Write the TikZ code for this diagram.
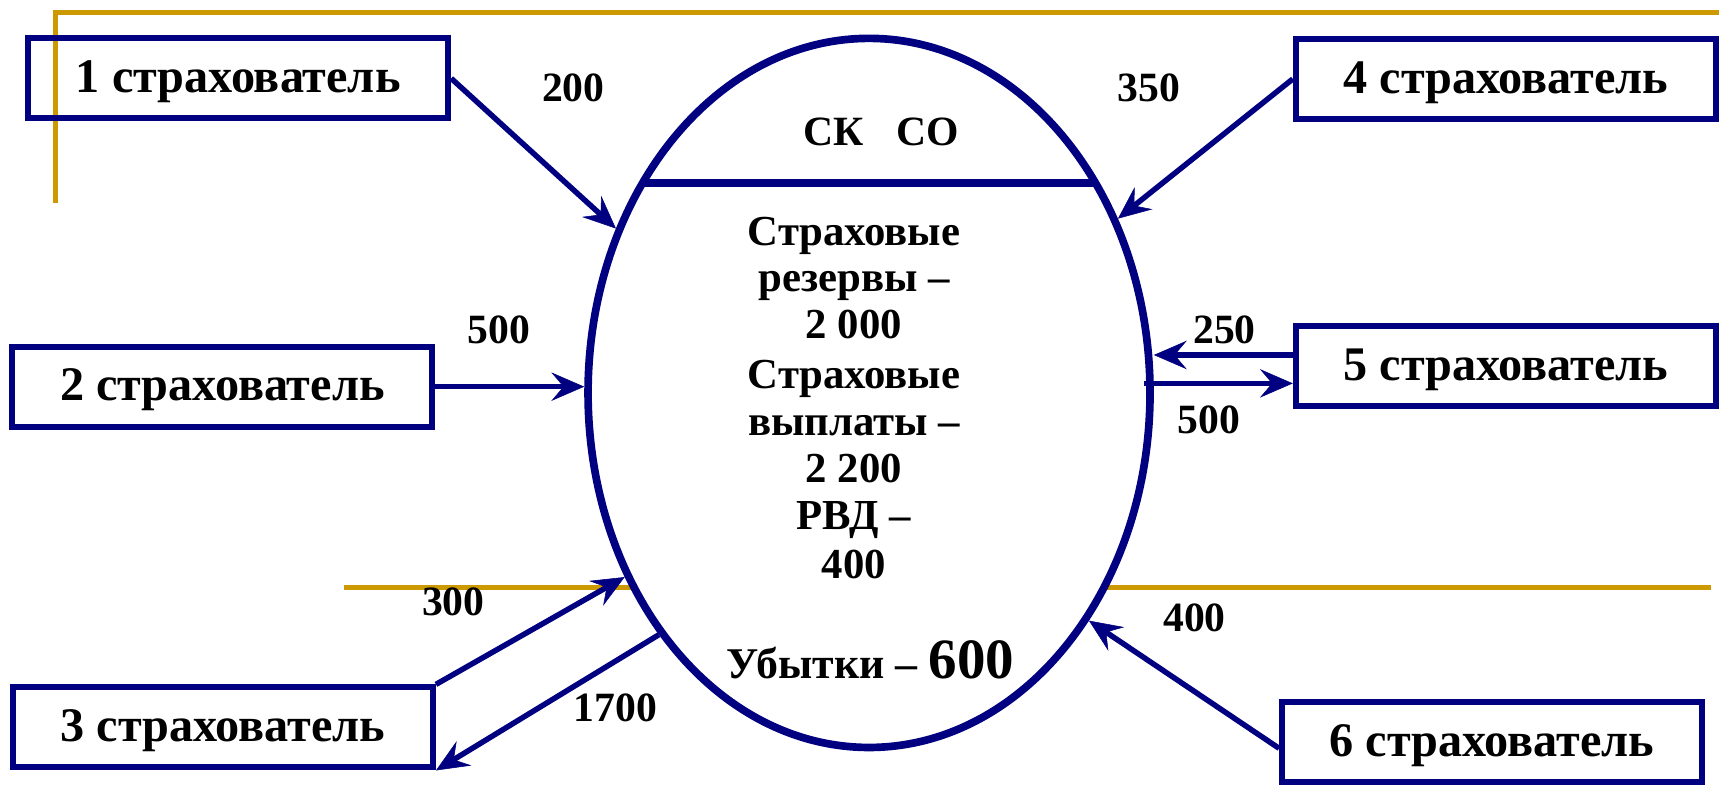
\documentclass[tikz,border=0pt]{standalone}
\usepackage{fontspec}
\setmainfont{Liberation Serif}
\usetikzlibrary{shapes.geometric,arrows.meta,calc}
\definecolor{navy}{RGB}{0,0,128}
\definecolor{rulegold}{RGB}{204,153,0}
\begin{document}
\begin{tikzpicture}[x=1pt,y=-1pt,
  insurer/.style={draw=navy,line width=5.5pt,minimum width=383pt,minimum height=73pt,inner sep=0pt,
     font=\fontsize{44}{50}\selectfont\bfseries,text height=29.7pt,text depth=3.7pt},
  amount/.style={font=\fontsize{38}{44}\selectfont\bfseries,inner sep=0pt,anchor=base},
  fund/.style={font=\fontsize{39}{44}\selectfont\bfseries,inner sep=0pt,anchor=base},
  flow/.style={draw=navy,line width=5pt,-{Stealth[length=30pt,width=26pt,inset=11pt,line width=0.5pt]}},
  guide/.style={draw=rulegold,line width=4.5pt}]

\useasboundingbox (0,0) rectangle (1568,717);

% gold guide rules
\draw[guide] (51,185.5) -- (51,11.5) -- (1568,11.5);
\draw[guide] (314,536) -- (1561,536);

% the insurance company
\node[ellipse,draw=navy,fill=white,line width=7pt,minimum width=512.6pt,
      minimum height=646.8pt,inner sep=0pt] (E) at (792.7,358.4) {};
\coordinate (dl) at (586,167.2);
\coordinate (dr) at (999.4,167.2);
\draw[navy,line width=7pt] (dl) -- (dr);

\node[fund,font=\fontsize{38}{44}\selectfont\bfseries] (sk) at (803.5,133) {СК\hspace{30pt}СО};
\foreach \t/\yy [count=\i] in {Страховые/223.5, резервы –/266.1, 2 000/309.2,
    Страховые/354.2, выплаты –/396.8, 2 200/440.3, РВД –/483.4, 400/527.5}
  \node[fund] (f\i) at (779,\yy) {\t};
\node[fund] (loss) at (793.8,618.7)
  {\fontsize{40}{44}\selectfont Убытки – \fontsize{52}{56}\selectfont 600};

% policyholders
\node[insurer] (b1) at (217.3,71.5) {1 страхователь};
\node[insurer] (b2) at (202.8,352.7) {2 страхователь};
\node[insurer] (b3) at (203.4,663.5) {3 страхователь};
\node[insurer] (b4) at (1373.5,72) {4 страхователь};
\node[insurer] (b5) at (1373.5,334) {5 страхователь};
\node[insurer] (b6) at (1361,677) {6 страхователь};

% money flows
\coordinate (p5a) at ([yshift=10.2pt]b5.west);
\coordinate (p5b) at ([yshift=-15.7pt]b5.west);
\coordinate (q5b) at ($(p5b -| E.east)+(-9,0)$);
\coordinate (b6s) at ([yshift=-5.6pt]b6.west);

\draw[flow] (b1.east) -- (E.147.7);
\draw[flow] (b4.west) -- (E.35.5);
\draw[flow] (b2.east) -- (b2.east -| E.west);
\draw[flow] (p5a) -- (p5a -| E.east);
\draw[flow] (q5b) -- (p5b);
\draw[flow] (b3.north east) -- (E.217.8);
\draw[flow] (E.229.3) -- (b3.south east);
\draw[flow] (b6s) -- (E.314.6);

% amounts
\node[amount] (a1) at (523,92.8) {200};
\node[amount] (a4) at (1048,92.8) {350};
\node[amount] (a2) at (455,313) {500};
\node[amount] (a5in) at (1117,313) {250};
\node[amount] (a5out) at (1102.5,395) {500};
\node[amount] (a3in) at (413.5,561.6) {300};
\node[amount] (a3out) at (561.5,658.3) {1700};
\node[amount] (a6) at (1089.5,576) {400};
\end{tikzpicture}
\end{document}
